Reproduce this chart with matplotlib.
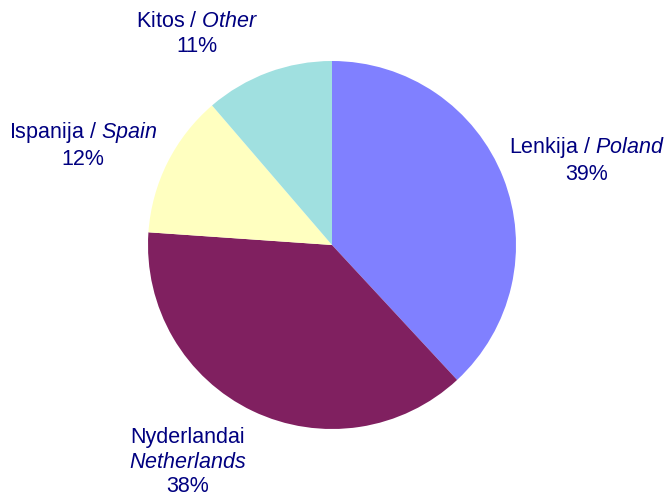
import matplotlib
matplotlib.use("Agg")
import matplotlib.pyplot as plt

plt.rcParams['font.family'] = ['Liberation Sans', 'DejaVu Sans']
plt.rcParams['mathtext.fontset'] = 'custom'
plt.rcParams['mathtext.rm'] = 'Liberation Sans'
plt.rcParams['mathtext.it'] = 'Liberation Sans:italic'

# wedge sizes, labels as printed
shares = [38.1, 38.0, 12.6, 11.3]
pct_labels = ["39%", "38%", "12%", "11%"]
names_lt = ["Lenkija", "Nyderlandai", "Ispanija", "Kitos"]
names_en = ["Poland", "Netherlands", "Spain", "Other"]
colors = ["#8080FF", "#802060", "#FFFFC0", "#A0E0E0"]

W, H = 668, 498
fig = plt.figure(figsize=(W / 100, H / 100), dpi=100)
ax = fig.add_axes([0, 0, 1, 1])

ax.pie(shares, colors=colors, startangle=90, counterclock=False,
       center=(332, H - 245), radius=184, frame=True,
       wedgeprops=dict(linewidth=0))
ax.set_xlim(0, W)
ax.set_ylim(0, H)
ax.set_aspect('equal')
ax.axis('off')

# label anchor positions (pixel coords from top-left)
label_pos = [(587, 160), (188, 462), (83, 145), (197, 34)]
navy = "#000080"
for i in range(len(shares)):
    if names_en[i] == "Netherlands":
        txt = names_lt[i] + "\n$\\mathit{" + names_en[i] + "}$\n" + pct_labels[i]
    else:
        txt = names_lt[i] + " / $\\mathit{" + names_en[i] + "}$\n" + pct_labels[i]
    x, y = label_pos[i]
    ax.text(x, H - y, txt, ha='center', va='center', fontsize=15.5,
            color=navy, linespacing=1.2, multialignment='center')

fig.savefig("out.png", dpi=100)
